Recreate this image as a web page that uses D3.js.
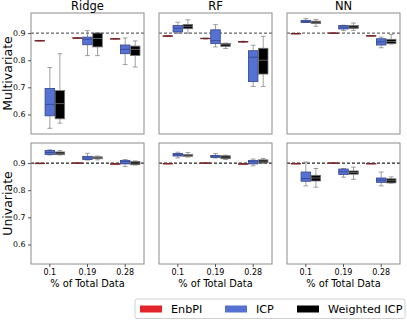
<!DOCTYPE html>
<html>
<head>
<meta charset="utf-8">
<script src="https://cdn.jsdelivr.net/npm/d3@7"></script>
<style>
  body { margin: 0; background: #fff; }
  svg { font-family: "DejaVu Sans", sans-serif; }
</style>
</head>
<body>
<svg width="407" height="320"></svg>
<script>
var categories = ["0.1", "0.19", "0.28"],
    models = ["Ridge", "RF", "NN"],
    rowNames = ["Multivariate", "Univariate"],
    series = ["EnbPI", "ICP", "Weighted ICP"],
    colors = ["#e3242b", "#5572d3", "#000000"],
    yTicks = [0.6, 0.7, 0.8, 0.9];

// each entry: [whisker low, q1, median, q3, whisker high] per category
var ridgeMulti = [
  [[0.871, 0.8715, 0.872, 0.8725, 0.873], [0.881, 0.8815, 0.882, 0.8825, 0.883], [0.878, 0.8785, 0.879, 0.8795, 0.880]],
  [[0.549, 0.595, 0.637, 0.696, 0.773], [0.817, 0.857, 0.877, 0.885, 0.909], [0.784, 0.824, 0.840, 0.856, 0.882]],
  [[0.568, 0.584, 0.640, 0.688, 0.824], [0.817, 0.849, 0.880, 0.900, 0.902], [0.775, 0.817, 0.840, 0.852, 0.871]]
];
var rfMulti = [
  [[0.887, 0.888, 0.889, 0.890, 0.891], [0.878, 0.879, 0.880, 0.881, 0.882], [0.866, 0.867, 0.868, 0.869, 0.870]],
  [[0.899, 0.904, 0.918, 0.928, 0.940], [0.849, 0.861, 0.872, 0.912, 0.931], [0.703, 0.721, 0.811, 0.835, 0.855]],
  [[0.900, 0.916, 0.925, 0.932, 0.949], [0.843, 0.851, 0.857, 0.862, 0.863], [0.703, 0.749, 0.800, 0.844, 0.888]]
];
var nnMulti = [
  [[0.897, 0.8975, 0.898, 0.8985, 0.899], [0.899, 0.8995, 0.900, 0.9005, 0.901], [0.889, 0.8895, 0.890, 0.8905, 0.891]],
  [[0.939, 0.939, 0.943, 0.947, 0.953], [0.909, 0.915, 0.922, 0.928, 0.929], [0.846, 0.856, 0.868, 0.879, 0.885]],
  [[0.925, 0.935, 0.940, 0.944, 0.950], [0.910, 0.917, 0.922, 0.928, 0.937], [0.860, 0.861, 0.869, 0.877, 0.895]]
];
var ridgeUni = [
  [[0.898, 0.8985, 0.899, 0.8995, 0.900], [0.899, 0.8995, 0.900, 0.9005, 0.901], [0.896, 0.8965, 0.897, 0.8975, 0.898]],
  [[0.930, 0.932, 0.939, 0.946, 0.949], [0.911, 0.913, 0.919, 0.925, 0.936], [0.887, 0.897, 0.905, 0.910, 0.913]],
  [[0.930, 0.931, 0.936, 0.941, 0.946], [0.912, 0.916, 0.920, 0.923, 0.926], [0.893, 0.894, 0.900, 0.906, 0.908]]
];
var rfUni = [
  [[0.897, 0.8975, 0.898, 0.8985, 0.899], [0.899, 0.8995, 0.900, 0.9005, 0.901], [0.896, 0.8965, 0.897, 0.8975, 0.898]],
  [[0.919, 0.926, 0.931, 0.935, 0.940], [0.919, 0.921, 0.925, 0.928, 0.935], [0.890, 0.897, 0.905, 0.910, 0.915]],
  [[0.922, 0.925, 0.929, 0.932, 0.939], [0.913, 0.916, 0.922, 0.927, 0.929], [0.898, 0.901, 0.907, 0.912, 0.917]]
];
var nnUni = [
  [[0.897, 0.8975, 0.898, 0.8985, 0.899], [0.899, 0.8995, 0.900, 0.9005, 0.901], [0.897, 0.8975, 0.898, 0.8985, 0.899]],
  [[0.816, 0.833, 0.843, 0.867, 0.904], [0.848, 0.858, 0.868, 0.878, 0.880], [0.816, 0.829, 0.837, 0.845, 0.867]],
  [[0.811, 0.834, 0.845, 0.855, 0.880], [0.840, 0.859, 0.865, 0.871, 0.885], [0.826, 0.827, 0.835, 0.842, 0.849]]
];

var panels = [
  [ridgeMulti, rfMulti, nnMulti],
  [ridgeUni, rfUni, nnUni]
];

var svg = d3.select("svg"),
    panelW = 113,
    panelLeft = [31, 159, 287],
    rowTop = [13, 143],
    panelH = 121;

var strokeCol = ["#7a2424", "#33448e", "#777777"];

var y = d3.scaleLinear().domain([0.528, 0.974]).range([panelH, 0]);

panels.forEach(function(row, r) {
  row.forEach(function(data, m) {
    var g = svg.append("g")
        .attr("transform", "translate(" + panelLeft[m] + "," + rowTop[r] + ")");

    var x = d3.scaleBand().domain(categories).range([0, panelW]);
    var xs = d3.scaleBand().domain(series)
        .range([x.bandwidth() * 0.1, x.bandwidth() * 0.9]);

    // reference line at 0.9
    g.append("line")
        .attr("x1", 0).attr("x2", panelW)
        .attr("y1", y(0.9)).attr("y2", y(0.9))
        .attr("stroke", r == 0 ? "#666" : "#222")
        .attr("stroke-width", 1.2)
        .attr("stroke-dasharray", "3,2");

    data.forEach(function(s, si) {
      s.forEach(function(d, ci) {
        var cx = x(categories[ci]) + xs(series[si]) + xs.bandwidth() / 2,
            bw = xs.bandwidth() - 0.5,
            box = g.append("g");
        // whiskers
        box.append("line")
            .attr("x1", cx).attr("x2", cx)
            .attr("y1", y(d[0])).attr("y2", y(d[1]))
            .attr("stroke", "#888").attr("stroke-width", 0.8);
        box.append("line")
            .attr("x1", cx).attr("x2", cx)
            .attr("y1", y(d[3])).attr("y2", y(d[4]))
            .attr("stroke", "#888").attr("stroke-width", 0.8);
        [d[0], d[4]].forEach(function(v) {
          box.append("line")
              .attr("x1", cx - bw / 4).attr("x2", cx + bw / 4)
              .attr("y1", y(v)).attr("y2", y(v))
              .attr("stroke", "#888").attr("stroke-width", 0.8);
        });
        box.append("rect")
            .attr("x", cx - bw / 2)
            .attr("y", y(d[3]))
            .attr("width", bw)
            .attr("height", Math.max(y(d[1]) - y(d[3]), 0.5))
            .attr("fill", colors[si])
            .attr("stroke", strokeCol[si])
            .attr("stroke-width", 0.8);
        box.append("line")
            .attr("x1", cx - bw / 2).attr("x2", cx + bw / 2)
            .attr("y1", y(d[2])).attr("y2", y(d[2]))
            .attr("stroke", strokeCol[si]).attr("stroke-width", 0.8);
      });
    });

    // frame
    g.append("rect")
        .attr("width", panelW).attr("height", panelH)
        .attr("fill", "none")
        .attr("stroke", "#8c8c8c")
        .attr("stroke-width", 1);

    if (r == 0) {
      g.append("text")
          .attr("x", panelW / 2).attr("y", -3)
          .attr("text-anchor", "middle")
          .attr("font-size", 11.5)
          .text(models[m]);
    }

    if (m == 0) {
      var ya = g.append("g")
          .call(d3.axisLeft(y).tickValues(yTicks).tickSize(3).tickPadding(2.5)
                .tickFormat(d3.format(".1f")));
      ya.select(".domain").remove();
      ya.selectAll("text").attr("font-size", 7.8).attr("font-family", "DejaVu Sans, sans-serif");
      ya.selectAll("line").attr("stroke", "#555");
      g.append("text")
          .attr("transform", "translate(-19.5," + panelH / 2 + ") rotate(-90)")
          .attr("text-anchor", "middle")
          .attr("font-size", 12.5)
          .text(rowNames[r]);
    }

    if (r == 1) {
      var xa = g.append("g")
          .attr("transform", "translate(0," + panelH + ")")
          .call(d3.axisBottom(x).tickSize(3).tickPadding(2));
      xa.select(".domain").remove();
      xa.selectAll("text").attr("font-size", 8).attr("font-family", "DejaVu Sans, sans-serif");
      xa.selectAll("line").attr("stroke", "#555");
      g.append("text")
          .attr("x", panelW / 2).attr("y", panelH + 23)
          .attr("text-anchor", "middle")
          .attr("font-size", 9.8)
          .text("% of Total Data");
    }
  });
});

// legend
var legend = svg.append("g").attr("transform", "translate(135,299)");
legend.append("rect")
    .attr("width", 270).attr("height", 19.5)
    .attr("rx", 2)
    .attr("fill", "#fff")
    .attr("stroke", "#d0d0d0");
var legendX = [5, 90, 162];
series.forEach(function(s, i) {
  legend.append("rect")
      .attr("x", legendX[i]).attr("y", 6.5)
      .attr("width", 22).attr("height", 7)
      .attr("fill", colors[i]);
  legend.append("text")
      .attr("x", legendX[i] + 31).attr("y", 14)
      .attr("font-size", 11.2)
      .text(s);
});
</script>
</body>
</html>
